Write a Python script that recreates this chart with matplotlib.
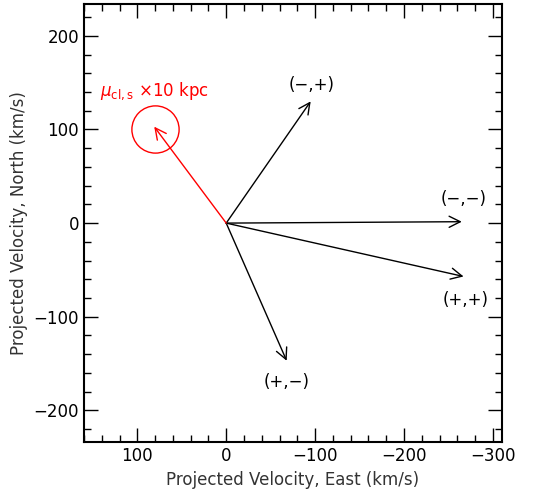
import matplotlib
matplotlib.use("Agg")
import matplotlib.pyplot as plt
from matplotlib.ticker import MultipleLocator

# data (km/s): East component, North component
labels = ["(\u2212,+)", "(\u2212,\u2212)", "(+,+)", "(+,\u2212)"]
east = [-95, -265, -267, -68]
north = [130, 1.5, -57, -147]
label_x = [-96, -267, -269, -68]
label_y = [148, 26, -82, -170]

mu_east, mu_north = 81, 103
circle_x, circle_y = 80.5, 101

fig = plt.figure(figsize=(5.49, 4.98), dpi=100)
ax = fig.add_axes([0.153, 0.112, 0.761, 0.880])
ax.set_xlim(160, -310)
ax.set_ylim(-234, 234)

for e, n in zip(east, north):
    ax.annotate("", xy=(e, n), xytext=(0, 0),
                arrowprops=dict(arrowstyle="->", color="black", lw=1.0,
                                mutation_scale=20, shrinkA=0, shrinkB=0))
for t, x, y in zip(labels, label_x, label_y):
    ax.text(x, y, t, ha="center", va="center", fontsize=12)

ax.annotate("", xy=(mu_east, mu_north), xytext=(0, 0),
            arrowprops=dict(arrowstyle="->", color="red", lw=1.0,
                            mutation_scale=20, shrinkA=0, shrinkB=0))
ax.plot([circle_x], [circle_y], marker="o", ms=34, mfc="none", mec="red", mew=1.0)
ax.text(142, 141, r"$\mu_{\rm cl,s}$ $\times$10 kpc", color="red", fontsize=12,
        ha="left", va="center")

ax.xaxis.set_major_locator(MultipleLocator(100))
ax.xaxis.set_minor_locator(MultipleLocator(20))
ax.yaxis.set_major_locator(MultipleLocator(100))
ax.yaxis.set_minor_locator(MultipleLocator(20))
ax.tick_params(which="both", direction="in", top=True, right=True, labelsize=12, width=1.0)
ax.tick_params(which="major", length=10)
ax.tick_params(which="minor", length=5)
for s in ax.spines.values():
    s.set_linewidth(1.5)
ax.set_xlabel("Projected Velocity, East (km/s)", fontsize=12, color="#333333")
ax.set_ylabel("Projected Velocity, North (km/s)", fontsize=12, color="#333333")

fig.savefig("out.png", dpi=100)
